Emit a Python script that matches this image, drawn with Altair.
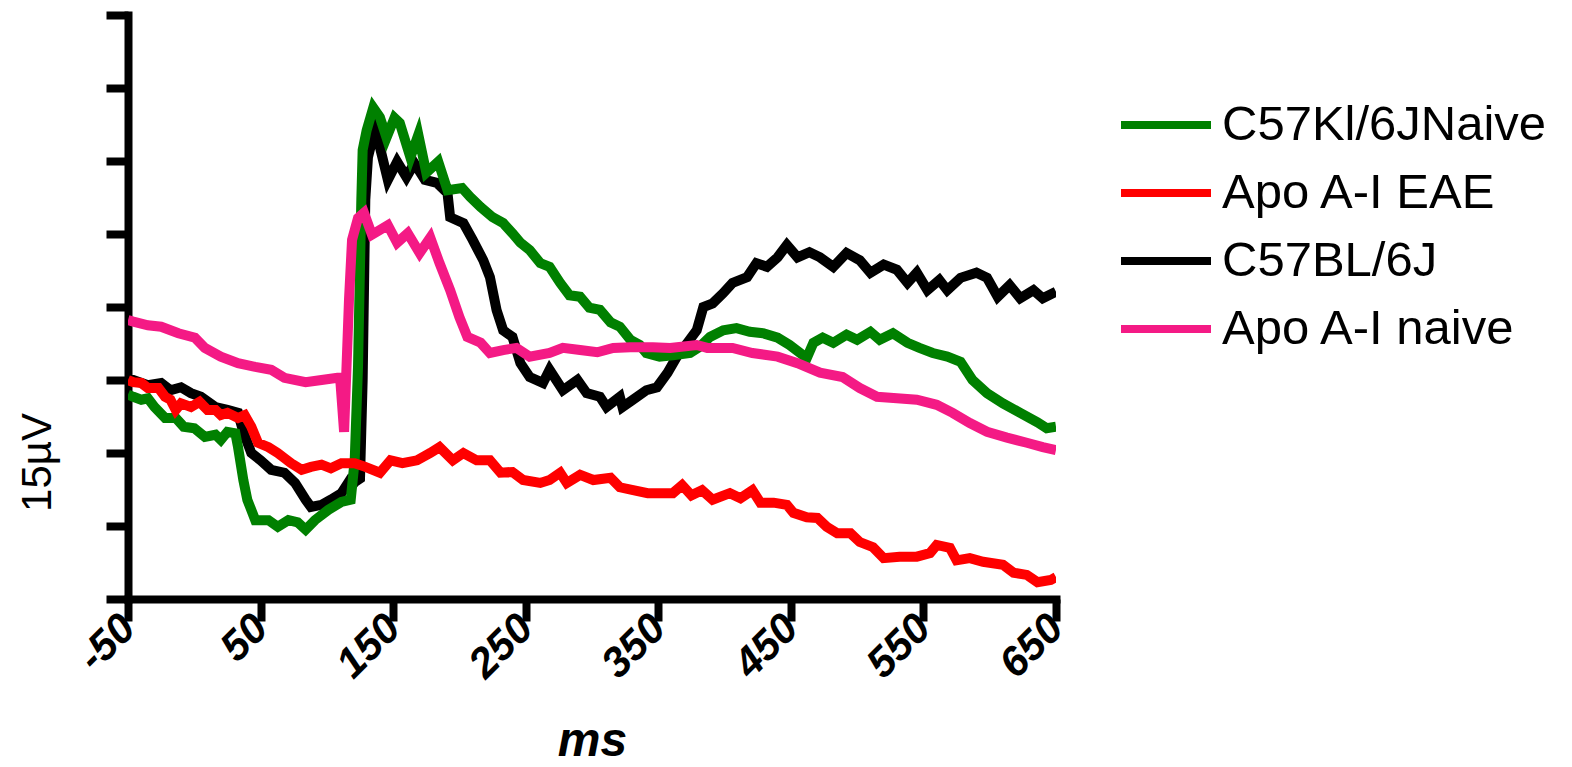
import altair as alt
import pandas as pd

# ---------------- data ----------------
series_names = ["C57Kl/6JNaive", "Apo A-I EAE", "C57BL/6J", "Apo A-I naive"]
series_colors = ["#008000", "#FF0000", "#000000", "#F41A85"]
draw_order = ["C57BL/6J", "C57Kl/6JNaive", "Apo A-I EAE", "Apo A-I naive"]

x_ticks = [-50, 50, 150, 250, 350, 450, 550, 650]
y_ticks = [0, 1, 2, 3, 4, 5, 6, 7, 8]

t_green = [-50, -46, -40, -35, -30, -22, -14, -8, 0, 8, 16, 20, 25, 31, 33, 37, 40, 46, 56, 63,
           71, 78, 84, 91, 101, 111, 118, 121, 123.5, 124.5, 126, 127, 130, 135, 140, 145, 151, 155, 163, 169,
           175, 184, 191, 202, 208, 216, 225, 233, 240, 246, 253, 261, 268, 276, 283, 291, 298, 306, 314, 321,
           329, 336, 341, 351, 361, 374, 381, 389, 399, 409, 419, 429, 440, 449, 457, 462, 467, 474, 482, 492,
           500, 510, 517, 527, 538, 547, 557, 568, 578, 587, 598, 610, 623, 636, 643, 650]
v_green = [2.80, 2.77, 2.73, 2.75, 2.63, 2.48, 2.48, 2.36, 2.34, 2.22, 2.25, 2.18, 2.29, 2.27, 2.08, 1.63, 1.36, 1.08, 1.08, 0.99,
           1.08, 1.05, 0.95, 1.08, 1.22, 1.33, 1.36, 1.90, 3.18, 4.10, 5.47, 6.15, 6.42, 6.73, 6.60, 6.32, 6.59, 6.52, 6.05, 6.36,
           5.84, 5.99, 5.60, 5.63, 5.51, 5.37, 5.23, 5.15, 5.01, 4.88, 4.78, 4.60, 4.55, 4.33, 4.16, 4.14, 3.99, 3.96, 3.79, 3.73,
           3.55, 3.48, 3.37, 3.32, 3.34, 3.37, 3.45, 3.59, 3.68, 3.71, 3.66, 3.64, 3.58, 3.48, 3.37, 3.30, 3.51, 3.58, 3.51, 3.62,
           3.55, 3.66, 3.55, 3.64, 3.51, 3.44, 3.37, 3.32, 3.25, 3.00, 2.82, 2.68, 2.55, 2.42, 2.34, 2.36]

t_black = [-50, -46, -35, -25, -18, -10, -2.5, 5, 16, 25, 33, 37, 43, 50, 58, 68, 76, 84, 88, 96,
           103, 111, 116, 118, 121, 125, 127, 129, 131, 136, 140, 146, 153, 160, 166, 174, 183, 191, 193, 203,
           210, 218, 223, 228, 233, 240, 246, 253, 263, 268, 278, 289, 296, 306, 311, 321, 323, 331, 341, 349,
           357, 364, 372, 379, 384, 391, 399, 406, 417, 424, 432, 440, 447, 455, 464, 472, 482, 492, 502, 510,
           520, 530, 538, 545, 553, 562, 568, 578, 590, 598, 606, 615, 623, 633, 640, 650]
v_black = [3.00, 3.00, 2.93, 2.96, 2.86, 2.90, 2.82, 2.77, 2.63, 2.59, 2.55, 2.29, 2.00, 1.90, 1.77, 1.73, 1.59, 1.36, 1.26, 1.29,
           1.36, 1.45, 1.59, 1.53, 1.60, 1.65, 3.00, 5.47, 6.05, 6.42, 6.19, 5.74, 5.99, 5.78, 5.97, 5.74, 5.70, 5.56, 5.23, 5.15,
           4.92, 4.64, 4.41, 3.96, 3.68, 3.59, 3.23, 3.04, 2.96, 3.14, 2.86, 3.00, 2.82, 2.77, 2.63, 2.77, 2.63, 2.73, 2.86, 2.90,
           3.10, 3.32, 3.51, 3.68, 4.00, 4.05, 4.19, 4.33, 4.41, 4.60, 4.55, 4.68, 4.85, 4.68, 4.75, 4.68, 4.55, 4.74, 4.64, 4.47,
           4.58, 4.51, 4.33, 4.47, 4.23, 4.37, 4.23, 4.40, 4.47, 4.40, 4.14, 4.30, 4.12, 4.23, 4.12, 4.21]

t_red = [-50, -46, -40, -35, -27, -22, -18, -14, -10, -2.5, 4, 10, 16, 20, 25, 33, 38, 43, 48, 56,
         63, 68, 73, 81, 88, 96, 103, 111, 121, 129, 140, 148, 157, 168, 178, 185, 195, 203, 213, 223,
         231, 240, 248, 261, 268, 276, 281, 291, 301, 314, 321, 331, 342, 351, 361, 368, 375, 383, 391, 404,
         412, 421, 427, 437, 447, 452, 462, 470, 477, 485, 495, 502, 512, 520, 532, 545, 555, 560, 570, 575,
         585, 595, 610, 618, 628, 636, 646, 650]
v_red = [3.00, 2.97, 2.96, 2.89, 2.89, 2.77, 2.73, 2.59, 2.68, 2.63, 2.70, 2.59, 2.59, 2.52, 2.55, 2.48, 2.52, 2.36, 2.14, 2.08,
         2.00, 1.93, 1.86, 1.77, 1.81, 1.84, 1.79, 1.86, 1.86, 1.81, 1.73, 1.90, 1.86, 1.90, 2.00, 2.08, 1.90, 2.00, 1.90, 1.90,
         1.73, 1.74, 1.63, 1.59, 1.63, 1.73, 1.59, 1.70, 1.63, 1.66, 1.53, 1.49, 1.45, 1.45, 1.45, 1.56, 1.42, 1.49, 1.36, 1.45,
         1.38, 1.49, 1.32, 1.32, 1.29, 1.18, 1.12, 1.11, 0.99, 0.90, 0.90, 0.78, 0.71, 0.56, 0.58, 0.58, 0.63, 0.74, 0.70, 0.53,
         0.56, 0.51, 0.47, 0.36, 0.33, 0.23, 0.26, 0.30]

t_pink = [-50, -46, -35, -25, -12, 0.5, 8, 20, 33, 46, 58, 68, 84, 96, 108, 110, 113, 116.7, 119, 123.5,
          128, 134, 146, 153, 161, 170, 178, 185, 193, 200, 206, 216, 223, 233, 243, 253, 268, 278, 291, 304,
          316, 329, 346, 359, 379, 387, 406, 421, 440, 455, 472, 489, 502, 515, 530, 545, 560, 572, 585, 598,
          613, 628, 640, 650]
v_pink = [3.82, 3.80, 3.75, 3.73, 3.64, 3.58, 3.44, 3.32, 3.23, 3.18, 3.14, 3.03, 2.97, 3.00, 3.03, 3.03, 2.29, 4.10, 4.92, 5.22,
          5.29, 4.99, 5.12, 4.88, 5.01, 4.74, 4.95, 4.60, 4.23, 3.86, 3.59, 3.51, 3.37, 3.41, 3.44, 3.32, 3.37, 3.44, 3.41, 3.38,
          3.44, 3.45, 3.45, 3.44, 3.48, 3.44, 3.44, 3.37, 3.32, 3.23, 3.10, 3.04, 2.89, 2.77, 2.75, 2.73, 2.66, 2.55, 2.41, 2.29,
          2.21, 2.14, 2.08, 2.04]

rows = []
for name, ts, vs in [("C57Kl/6JNaive", t_green, v_green),
                     ("Apo A-I EAE", t_red, v_red),
                     ("C57BL/6J", t_black, v_black),
                     ("Apo A-I naive", t_pink, v_pink)]:
    for t, v in zip(ts, vs):
        rows.append({"ms": t, "uv": v, "series": name})
df = pd.DataFrame(rows)

FONT = "Liberation Sans"

x_enc = alt.X(
    "ms:Q",
    scale=alt.Scale(domain=[-50, 650], nice=False, zero=False),
    axis=alt.Axis(
        values=x_ticks, grid=False, labelExpr="'' + datum.value",
        domainColor="black", domainWidth=8, domainCap="square",
        tickColor="black", tickWidth=8, tickSize=22,
        labelAngle=-45, labelAlign="right", labelBaseline="middle", labelPadding=0,
        labelFont=FONT, labelFontSize=42, labelFontWeight="bold", labelFontStyle="italic",
        labelColor="black", labelFlush=False, labelOverlap=False, labelBound=False,
        title="ms", titleFont=FONT, titleFontSize=48, titleFontWeight="bold", titleFontStyle="italic",
        titleColor="black", titleY=156, titleBaseline="alphabetic",
    ),
)
y_enc = alt.Y(
    "uv:Q",
    scale=alt.Scale(domain=[0, 8], nice=False, zero=False),
    axis=alt.Axis(
        values=y_ticks, grid=False, labels=False,
        domainColor="black", domainWidth=8, domainCap="square",
        tickColor="black", tickWidth=8, tickSize=22,
        title="15µV", titleFont=FONT, titleFontSize=42, titleFontWeight="normal",
        titleColor="black", titleX=-91, titleY=447, titleAngle=270,
        titleAlign="center", titleBaseline="middle",
    ),
)
color_enc = alt.Color(
    "series:N",
    scale=alt.Scale(domain=series_names, range=series_colors),
    title=None,
    legend=alt.Legend(
        orient="none", legendX=989, legendY=82, padding=0,
        symbolType="stroke", symbolSize=8100, symbolStrokeWidth=8, symbolOpacity=1,
        labelFont=FONT, labelFontSize=49, labelColor="black", labelOffset=7,
        labelLimit=600, clipHeight=56, rowPadding=12,
    ),
)

layers = [
    alt.Chart(df).transform_filter(alt.datum.series == s)
    .mark_line(strokeWidth=10, strokeJoin="miter", clip=True)
    .encode(x=x_enc, y=y_enc, color=color_enc)
    for s in draw_order
]

chart = alt.layer(*layers).properties(
    width=928, height=584,
    autosize=alt.AutoSizeParams(type="none"),
    padding={"left": 120, "top": 7, "right": 508, "bottom": 166},
    background="white",
).configure_view(strokeWidth=0)

chart.save("out.html", embed_options={"renderer": "svg", "actions": False})
